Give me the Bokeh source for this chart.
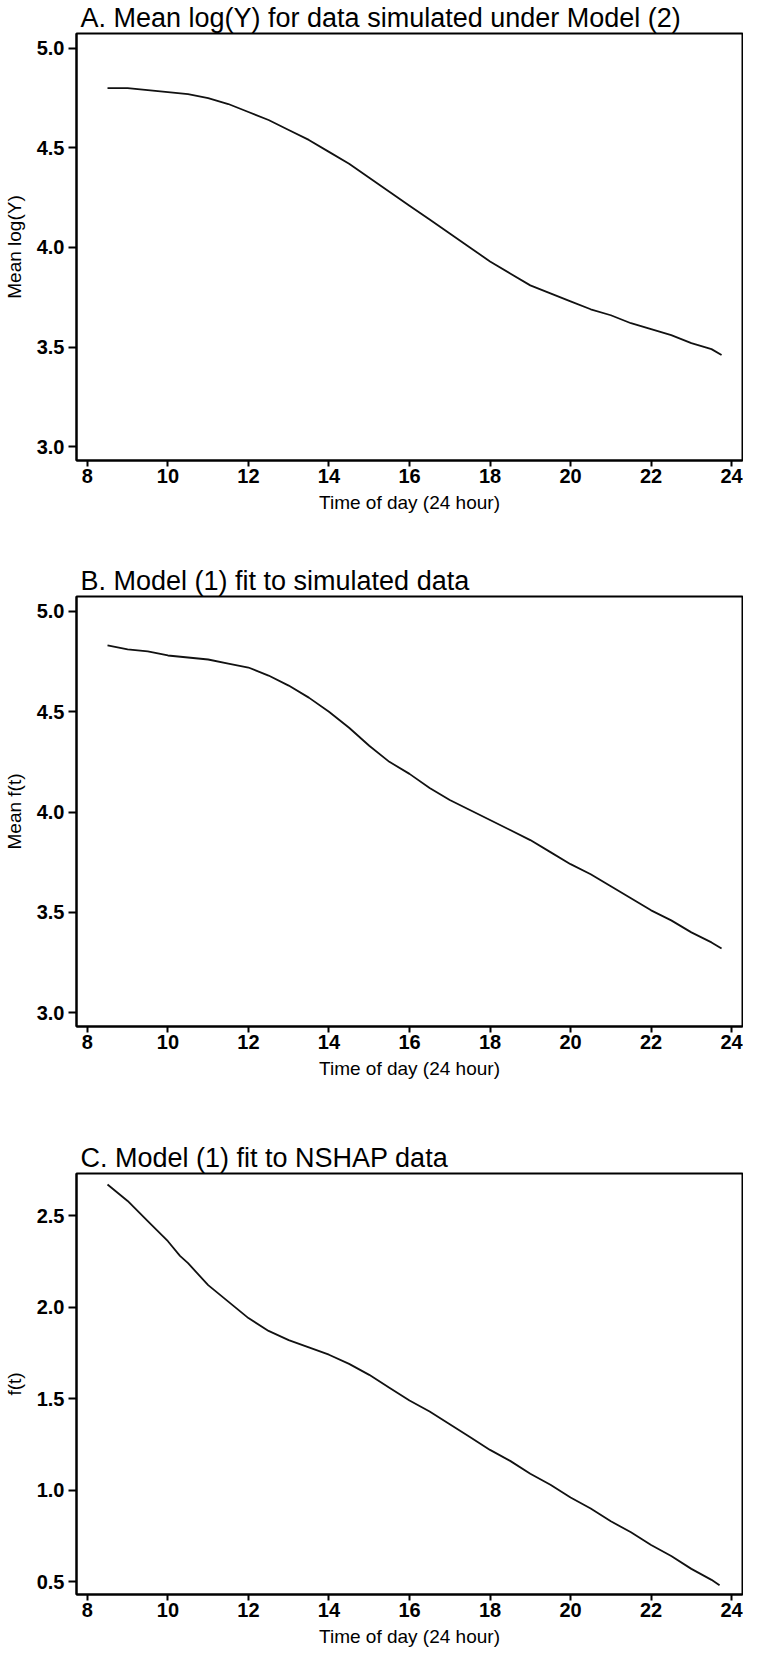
from bokeh.plotting import figure
from bokeh.layouts import column
from bokeh.models import Range1d, FixedTicker, PrintfTickFormatter
from bokeh.embed import file_html
from bokeh.resources import INLINE

# ---- data ----
x_ticks = [8, 10, 12, 14, 16, 18, 20, 22, 24]
y_ticks_ab = [3.0, 3.5, 4.0, 4.5, 5.0]
y_ticks_c = [0.5, 1.0, 1.5, 2.0, 2.5]

hours_a = [8.5, 9.0, 9.5, 10.0, 10.5, 11.0, 11.5, 12.0, 12.5, 13.0, 13.5, 14.0, 14.5, 15.0, 15.5, 16.0,
           16.5, 17.0, 17.5, 18.0, 18.5, 19.0, 19.5, 20.0, 20.5, 21.0, 21.5, 22.0, 22.5, 23.0, 23.5, 23.75]
mean_logy_a = [4.80, 4.80, 4.79, 4.78, 4.77, 4.75, 4.72, 4.68, 4.64, 4.59, 4.54, 4.48, 4.42, 4.35, 4.28, 4.21,
               4.14, 4.07, 4.00, 3.93, 3.87, 3.81, 3.77, 3.73, 3.69, 3.66, 3.62, 3.59, 3.56, 3.52, 3.49, 3.46]

hours_b = [8.5, 9.0, 9.5, 10.0, 10.5, 11.0, 11.5, 12.0, 12.5, 13.0, 13.5, 14.0, 14.5, 15.0, 15.5, 16.0,
           16.5, 17.0, 17.5, 18.0, 18.5, 19.0, 19.5, 20.0, 20.5, 21.0, 21.5, 22.0, 22.5, 23.0, 23.5, 23.75]
mean_ft_b = [4.83, 4.81, 4.80, 4.78, 4.77, 4.76, 4.74, 4.72, 4.68, 4.63, 4.57, 4.50, 4.42, 4.33, 4.25, 4.19,
             4.12, 4.06, 4.01, 3.96, 3.91, 3.86, 3.80, 3.74, 3.69, 3.63, 3.57, 3.51, 3.46, 3.40, 3.35, 3.32]

hours_c = [8.5, 9.0, 9.5, 10.0, 10.3, 10.5, 11.0, 11.5, 12.0, 12.5, 13.0, 13.5, 14.0, 14.5, 15.0, 15.5, 16.0,
           16.5, 17.0, 17.5, 18.0, 18.5, 19.0, 19.5, 20.0, 20.5, 21.0, 21.5, 22.0, 22.5, 23.0, 23.5, 23.7]
ft_c = [2.67, 2.58, 2.47, 2.36, 2.28, 2.24, 2.12, 2.03, 1.94, 1.87, 1.82, 1.78, 1.74, 1.69, 1.63, 1.56, 1.49,
        1.43, 1.36, 1.29, 1.22, 1.16, 1.09, 1.03, 0.96, 0.90, 0.83, 0.77, 0.70, 0.64, 0.57, 0.51, 0.48]

FONT = "Liberation Sans"


def make_panel(title, ylabel, xs, ys, y_range, y_ticks, height, top, bottom):
    p = figure(width=743, height=height, output_backend="svg", toolbar_location=None,
               x_range=Range1d(7.73, 24.27), y_range=Range1d(*y_range),
               min_border_left=72, min_border_right=1, min_border_top=top, min_border_bottom=bottom)
    p.title.text = title
    p.title.text_font = FONT
    p.title.text_font_size = "27px"
    p.title.text_font_style = "normal"
    p.title.text_color = "black"
    p.title.align = "left"
    p.title.offset = 4
    p.title.standoff = 1
    p.outline_line_color = "black"
    p.outline_line_width = 2
    p.xgrid.visible = False
    p.ygrid.visible = False
    p.background_fill_color = "white"
    p.border_fill_color = "white"

    p.line(xs, ys, line_color="#111111", line_width=1.8)

    for ax, ticks, tout in ((p.xaxis[0], x_ticks, 6), (p.yaxis[0], y_ticks, 8)):
        ax.ticker = FixedTicker(ticks=ticks)
        ax.minor_tick_line_color = None
        ax.major_tick_in = 0
        ax.major_tick_out = tout
        ax.major_tick_line_width = 2
        ax.major_tick_line_color = "black"
        ax.axis_line_width = 2
        ax.axis_line_color = "black"
        ax.major_label_text_font = FONT
        ax.major_label_text_font_size = "20px"
        ax.major_label_text_font_style = "bold"
        ax.major_label_text_color = "black"
        ax.axis_label_text_font = FONT
        ax.axis_label_text_font_size = "19px"
        ax.axis_label_text_font_style = "normal"
        ax.axis_label_text_color = "black"
    p.xaxis.major_label_standoff = 2
    p.xaxis.axis_label_standoff = 6
    p.yaxis.major_label_standoff = 4
    p.yaxis.axis_label_standoff = 9
    p.xaxis.axis_label = "Time of day (24 hour)"
    p.yaxis.axis_label = ylabel
    p.yaxis.formatter = PrintfTickFormatter(format="%.1f")
    return p


pa = make_panel("A. Mean log(Y) for data simulated under Model (2)", "Mean log(Y)",
                hours_a, mean_logy_a, (2.931, 5.074), y_ticks_ab, 532, 30, 72)
pb = make_panel("B. Model (1) fit to simulated data", "Mean f(t)",
                hours_b, mean_ft_b, (2.931, 5.074), y_ticks_ab, 572, 64, 78)
pc = make_panel("C. Model (1) fit to NSHAP data", "f(t)",
                hours_c, ft_c, (0.43, 2.73), y_ticks_c, 549, 69, 59)

layout = column(pa, pb, pc, spacing=0)
open("out.html", "w").write(file_html(layout, INLINE))
